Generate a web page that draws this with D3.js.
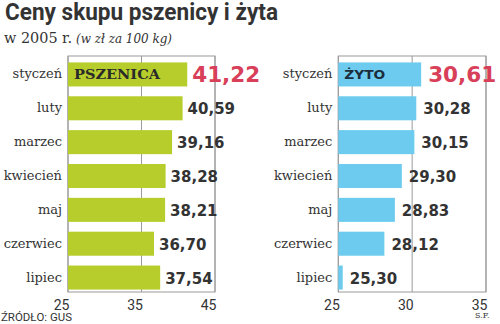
<!DOCTYPE html>
<html><head><meta charset="utf-8">
<script src="https://cdn.jsdelivr.net/npm/d3@7"></script>
<style>html,body{margin:0;padding:0;background:#fff;}svg{display:block;}</style>
</head><body>
<script>
const months = ["styczeń","luty","marzec","kwiecień","maj","czerwiec","lipiec"];
const wheat = [41.22, 40.59, 39.16, 38.28, 38.21, 36.70, 37.54];
const rye = [30.61, 30.28, 30.15, 29.30, 28.83, 28.12, 25.30];
const wheatTicks = [25, 35, 45];
const ryeTicks = [25, 30, 35];

const W = 500, H = 324;
const svg = d3.select("body").append("svg").attr("width", W).attr("height", H);
const dark = "#333333", red = "#d8405a";
const fmt = v => d3.format(".2f")(v).replace(".", ",");

svg.append("text").attr("x", 5).attr("y", 20)
  .attr("font-family", "Roboto").attr("font-weight", 700).attr("font-size", 23)
  .attr("fill", dark).attr("textLength", 273).attr("lengthAdjust", "spacingAndGlyphs")
  .text("Ceny skupu pszenicy i żyta");
svg.append("text").attr("x", 4).attr("y", 43)
  .attr("font-family", "DejaVu Serif").attr("font-size", 15).attr("fill", dark)
  .attr("textLength", 68).attr("lengthAdjust", "spacingAndGlyphs")
  .text("w 2005 r.");
svg.append("text").attr("x", 76).attr("y", 43)
  .attr("font-family", "DejaVu Serif").attr("font-style", "italic").attr("font-size", 12).attr("fill", dark)
  .attr("textLength", 96).attr("lengthAdjust", "spacingAndGlyphs")
  .text("(w zł za 100 kg)");

const y = d3.scaleBand().domain(months).range([57, 295]).paddingInner(0.29).paddingOuter(0.16);

function panel(values, ticks, x0, x1, color, name, nameFont, nameColor, nameLen, gap) {
  const x = d3.scaleLinear().domain([ticks[0], ticks[ticks.length - 1]]).range([x0, x1]);
  const g = svg.append("g");
  // frame
  g.append("rect").attr("x", x0).attr("y", 56).attr("width", x1 - x0).attr("height", 236)
    .attr("fill", "none").attr("stroke", "#9a9a9a").attr("stroke-width", 1);
  g.selectAll("line.grid").data(ticks).join("line").attr("class", "grid")
    .attr("x1", d => x(d)).attr("x2", d => x(d)).attr("y1", 56).attr("y2", 292)
    .attr("stroke", "#9a9a9a").attr("stroke-width", 1);
  g.selectAll("rect.bar").data(values).join("rect").attr("class", "bar")
    .attr("x", x(ticks[0])).attr("y", (d, i) => y(months[i]))
    .attr("width", d => x(d) - x(ticks[0])).attr("height", y.bandwidth())
    .attr("fill", color);
  g.selectAll("text.month").data(months).join("text").attr("class", "month")
    .attr("x", x0 - 6).attr("y", d => y(d) + y.bandwidth() / 2 + 4)
    .attr("text-anchor", "end").attr("font-family", "DejaVu Serif").attr("font-size", 13)
    .attr("fill", dark).text(d => d);
  g.selectAll("text.val").data(values).join("text").attr("class", "val")
    .attr("x", d => x(d) + gap)
    .attr("y", (d, i) => y(months[i]) + y.bandwidth() / 2 + (i === 0 ? 8 : 6))
    .attr("font-family", "DejaVu Sans").attr("font-weight", 700)
    .attr("font-size", (d, i) => i === 0 ? 21.5 : 15)
    .attr("fill", (d, i) => i === 0 ? red : dark).text(d => fmt(d));
  g.append("text").attr("x", x0 + 6).attr("y", y(months[0]) + y.bandwidth() / 2 + 5)
    .attr("font-family", nameFont).attr("font-weight", 700).attr("font-size", 12.5)
    .attr("fill", nameColor).attr("textLength", nameLen).attr("lengthAdjust", "spacingAndGlyphs")
    .text(name);
  g.selectAll("text.tick").data(ticks).join("text").attr("class", "tick")
    .attr("x", d => x(d) + 1.5).attr("y", 309.5).attr("text-anchor", "end")
    .attr("font-family", "Roboto").attr("font-size", 14).attr("fill", dark)
    .text(d => d);
}

panel(wheat, wheatTicks, 68, 215, "#b6cd2c", "PSZENICA", "DejaVu Serif", "#2a2a2a", 86, 5);
panel(rye, ryeTicks, 338.3, 486, "#6ccbee", "ŻYTO", "DejaVu Sans", "#1c2e3e", 41, 7);

svg.append("text").attr("x", 1).attr("y", 321)
  .attr("font-family", "Roboto").attr("font-size", 10).attr("fill", dark)
  .attr("textLength", 71).attr("lengthAdjust", "spacingAndGlyphs")
  .text("ŹRÓDŁO: GUS");
svg.append("text").attr("x", 475).attr("y", 318)
  .attr("font-family", "DejaVu Serif").attr("font-size", 8).attr("fill", dark)
  .text("S.F.");
</script>
</body></html>
